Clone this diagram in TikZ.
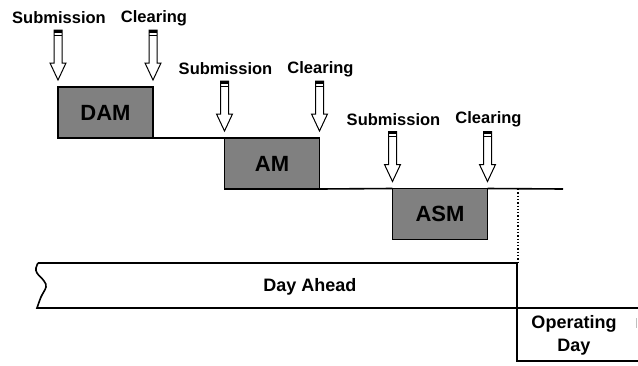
\documentclass[tikz,border=0pt]{standalone}
\usepackage{fontspec}
\setmainfont{Liberation Sans}
\usetikzlibrary{calc}

\tikzset{
  market/.style={draw,shape=rectangle,fill=black!50,line width=1.6pt,
    minimum width=95pt,minimum height=51pt,inner sep=0pt,outer sep=0pt,
    font=\fontsize{22}{24}\selectfont\bfseries},
  lbl/.style={font=\fontsize{16.5}{18}\selectfont\bfseries,inner sep=0pt},
  gate/.pic={
    \draw[fill=white,line width=1pt] (-4,-50) -- (-4,-17) -- (-8,-17) -- (0,0)
      -- (8,-17) -- (4,-17) -- (4,-50) -- cycle;
    \fill (-4,-50) rectangle (4,-47.5);
    \draw[line width=0.8pt] (-4,-45) -- (4,-45);
  }
}

\begin{document}
\begin{tikzpicture}[x=1pt,y=-1pt]
  \useasboundingbox (0,0) rectangle (638,365);
  \node[market] (dam) at (105.5,112.5) {DAM};
  \node[market] (am) at (272,163.5) {AM};
  \node[market] (asm) at (440,214) {ASM};
  \coordinate (lineend) at (563,189);
  \draw[line width=1.6pt] (dam.south east) -- (am.north west);
  \draw[line width=1.6pt] (am.south east) -- (asm.north west);
  \draw[line width=1.6pt] (asm.north east) -- (lineend);
  % submission and clearing gates
  \foreach \b in {dam,am,asm} {
    \coordinate (sub) at ($(\b.north west)+(0,-7)$);
    \coordinate (clr) at ($(\b.north east)+(0,-7)$);
    \pic at (sub) {gate};
    \pic at (clr) {gate};
    \node[lbl] (\b-sub) at ($(sub)+(1,-62)$) {Submission};
    \node[lbl] (\b-clr) at ($(clr)+(1,-62)$) {Clearing};
  }
  \draw[dotted,line width=1.3pt] (518,189) -- (518,263);
  % day ahead / operating day
  \draw[line width=1.6pt] (517,263) -- (38,263)
    plot[smooth,tension=0.6] coordinates {(38,263) (36,268) (37,273) (44,281) (46,287) (41,297) (37,308)}
    -- (638,308);
  \draw[line width=1.6pt] (517,263) -- (517,361) -- (638,361);
  \draw[black!25,line width=0.8pt] (636,318) -- (636,328);
  \node[font=\fontsize{18}{20}\selectfont\bfseries] (dayahead) at (310,287) {Day Ahead};
  \node[font=\fontsize{18}{23}\selectfont\bfseries,align=center,inner sep=0pt] (opday) at (574,335.5) {Operating\\Day};
\end{tikzpicture}
\end{document}
